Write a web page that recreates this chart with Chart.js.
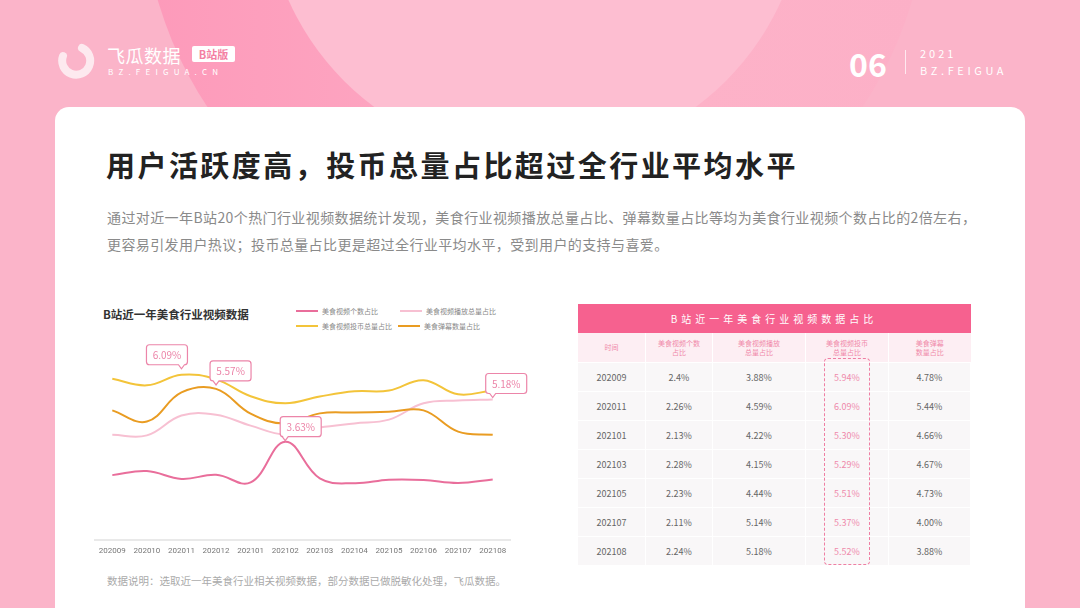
<!DOCTYPE html>
<html>
<head>
<meta charset="utf-8">
<script src="https://cdn.jsdelivr.net/npm/chart.js@4.4.0/dist/chart.umd.min.js"></script>
<style>
  html, body { margin: 0; padding: 0; }
  body { width: 1080px; height: 608px; overflow: hidden; position: relative; background: #fbb4c9; font-family: "Noto Sans CJK SC", "Noto Sans", sans-serif; }
  .abs { position: absolute; }
  #ring { left: 142px; top: -503px; width: 786px; height: 786px; border-radius: 50%; background: linear-gradient(90deg, #fd9aba 0%, #fda4c0 30%, #fdb2c8 70%, #fcb0c7 100%); }
  #disc { left: 265px; top: -380px; width: 540px; height: 540px; border-radius: 50%; background: #fdbed1; }
  #card { left: 55px; top: 107px; width: 970px; height: 540px; background: #fff; border-radius: 14px; }
  #title { left: 106px; top: 143px; font-size: 29px; font-weight: 700; color: #222; letter-spacing: 2.45px; white-space: nowrap; }
  #desc { left: 107px; top: 204px; width: 880px; font-size: 14px; line-height: 27px; color: #8a8a8a; letter-spacing: 0.4px; }
  #chartTitle { left: 103px; top: 306px; font-size: 11.5px; font-weight: 700; color: #333; white-space: nowrap; }
  .lg { font-size: 7px; color: #888; white-space: nowrap; display: flex; align-items: center; }
  .lg i { display: inline-block; width: 22px; height: 2px; margin-right: 4px; }
  #note { left: 107px; top: 573px; font-size: 10.5px; color: #aaa; white-space: nowrap; }
  #chartWrap { left: 90px; top: 330px; width: 440px; height: 235px; }
  #tbl { left: 577px; top: 304px; width: 393px; border-collapse: collapse; table-layout: fixed; }
  #tbl th.cap { background: #f6618f; color: #fff; font-size: 10px; font-weight: 400; letter-spacing: 4px; height: 29px; padding: 0; }
  #tbl th.sub { background: #fdeef3; color: #f08aaa; font-size: 7px; font-weight: 400; line-height: 9px; height: 29px; padding: 0; border-left: 1px solid #fff; }
  #tbl td { background: #f9f7f8; color: #666; font-size: 9px; text-align: center; height: 28px; padding: 0; border: 1px solid #fff; border-width: 1px 1px 0 1px; }
  #tbl td.hi { color: #ef8aab; }
  #dash { left: 824px; top: 358px; width: 44px; height: 205px; border: 1.5px dashed #ef7fa3; border-radius: 4px; }
  .hd { color: #fff; white-space: nowrap; }
</style>
</head>
<body>
<div id="ring" class="abs"></div>
<div id="disc" class="abs"></div>

<!-- header -->
<svg class="abs" style="left:55px;top:40px" width="40" height="40" viewBox="0 0 40 40">
  <path d="M 27 8 A 14 14 0 1 1 8 16" fill="none" stroke="#fde9ef" stroke-width="8" stroke-linecap="round"/>
</svg>
<div class="abs hd" style="left:107px;top:42px;font-size:18px;font-weight:400;letter-spacing:0.5px">飞瓜数据</div>
<div class="abs" style="left:192px;top:46px;width:43px;height:16px;background:#fff;border-radius:2px;color:#f47fa3;font-size:11px;font-weight:700;line-height:16px;text-align:center">B站版</div>
<div class="abs hd" style="left:108px;top:66px;font-size:8px;letter-spacing:5.2px">BZ.FEIGUA.CN</div>
<div class="abs hd" style="left:849px;top:40px;font-size:32px;font-weight:700">06</div>
<div class="abs" style="left:905px;top:50px;width:1px;height:24px;background:rgba(255,255,255,0.7)"></div>
<div class="abs hd" style="left:920px;top:45px;font-size:11px;letter-spacing:3px">2021</div>
<div class="abs hd" style="left:920px;top:62px;font-size:11px;letter-spacing:3.6px">BZ.FEIGUA</div>

<div id="card" class="abs"></div>
<div id="title" class="abs">用户活跃度高，投币总量占比超过全行业平均水平</div>
<div id="desc" class="abs">通过对近一年B站20个热门行业视频数据统计发现，美食行业视频播放总量占比、弹幕数量占比等均为美食行业视频个数占比的2倍左右，<br>更容易引发用户热议；投币总量占比更是超过全行业平均水平，受到用户的支持与喜爱。</div>

<div id="chartTitle" class="abs">B站近一年美食行业视频数据</div>
<div id="legend"></div>
<div id="chartWrap" class="abs"><canvas id="lineChart"></canvas></div>

<table id="tbl" class="abs"></table>
<div id="dash" class="abs"></div>

<div id="note" class="abs">数据说明：选取近一年美食行业相关视频数据，部分数据已做脱敏化处理，飞瓜数据。</div>

<script>
var months = ['202009', '202010', '202011', '202012', '202101', '202102', '202103', '202104', '202105', '202106', '202107', '202108'];
var countShare = [2.4, 2.55, 2.26, 2.41, 2.13, 3.63, 2.28, 2.1, 2.23, 2.22, 2.11, 2.24];
var playShare = [3.88, 3.86, 4.59, 4.62, 4.22, 3.89, 4.15, 4.3, 4.44, 5.04, 5.14, 5.18];
var coinShare = [5.94, 5.7, 6.09, 5.92, 5.30, 5.04, 5.29, 5.48, 5.51, 5.89, 5.37, 5.52];
var danmuShare = [4.78, 4.37, 5.44, 5.57, 4.66, 4.3, 4.67, 4.7, 4.73, 4.78, 4.0, 3.88];
var seriesNames = ['美食视频个数占比', '美食视频播放总量占比', '美食视频投币总量占比', '美食弹幕数量占比'];
var seriesColors = ['#e96e9b', '#f7c0d2', '#f3c43a', '#e99c22'];

// table data
var tableTitle = 'B站近一年美食行业视频数据占比';
var tableHeads = ['时间', '美食视频个数<br>占比', '美食视频播放<br>总量占比', '美食视频投币<br>总量占比', '美食弹幕<br>数量占比'];
var tableMonths = ['202009', '202011', '202101', '202103', '202105', '202107', '202108'];
var tableCount = ['2.4%', '2.26%', '2.13%', '2.28%', '2.23%', '2.11%', '2.24%'];
var tablePlay = ['3.88%', '4.59%', '4.22%', '4.15%', '4.44%', '5.14%', '5.18%'];
var tableCoin = ['5.94%', '6.09%', '5.30%', '5.29%', '5.51%', '5.37%', '5.52%'];
var tableDanmu = ['4.78%', '5.44%', '4.66%', '4.67%', '4.73%', '4.00%', '3.88%'];

// legend (2 x 2)
var legendSpots = [[296, 306], [400, 306], [296, 321], [398, 321]];
var legendHtml = '';
for (var i = 0; i < seriesNames.length; i++) {
    legendHtml += '<div class="abs lg" style="left:' + legendSpots[i][0] + 'px;top:' + legendSpots[i][1] + 'px">' +
        '<i style="background:' + seriesColors[i] + '"></i>' + seriesNames[i] + '</div>';
}
document.getElementById('legend').innerHTML = legendHtml;

// table
var colW = [68, 67, 93, 83, 82];
var html = '<colgroup>';
colW.forEach(function (w) { html += '<col style="width:' + w + 'px">'; });
html += '</colgroup><tr><th class="cap" colspan="5">' + tableTitle + '</th></tr><tr>';
tableHeads.forEach(function (h) { html += '<th class="sub">' + h + '</th>'; });
html += '</tr>';
for (var r = 0; r < tableMonths.length; r++) {
    html += '<tr><td>' + tableMonths[r] + '</td><td>' + tableCount[r] + '</td><td>' + tablePlay[r] +
        '</td><td class="hi">' + tableCoin[r] + '</td><td>' + tableDanmu[r] + '</td></tr>';
}
document.getElementById('tbl').innerHTML = html;

// callouts on the line chart: dataset index, point index, box offset from point
var callouts = [
    { ds: 2, idx: 2, dx: -35, dy: -10 },
    { ds: 3, idx: 3, dx: -6, dy: -8 },
    { ds: 0, idx: 5, dx: -5, dy: -5 },
    { ds: 1, idx: 11, dx: -7, dy: -6 }
];

var calloutPlugin = {
    id: 'callouts',
    afterDatasetsDraw: function (chart) {
        var ctx = chart.ctx;
        ctx.save();
        callouts.forEach(function (c) {
            var pt = chart.getDatasetMeta(c.ds).data[c.idx];
            var val = chart.data.datasets[c.ds].data[c.idx];
            var w = 41, h = 20, r = 3;
            var x0 = pt.x + c.dx, y1 = pt.y + c.dy, y0 = y1 - h;
            var px = pt.x;
            ctx.beginPath();
            ctx.moveTo(x0 + r, y0);
            ctx.lineTo(x0 + w - r, y0);
            ctx.quadraticCurveTo(x0 + w, y0, x0 + w, y0 + r);
            ctx.lineTo(x0 + w, y1 - r);
            ctx.quadraticCurveTo(x0 + w, y1, x0 + w - r, y1);
            ctx.lineTo(px + 3, y1);
            ctx.lineTo(px, y1 + 4);
            ctx.lineTo(px - 3, y1);
            ctx.lineTo(x0 + r, y1);
            ctx.quadraticCurveTo(x0, y1, x0, y1 - r);
            ctx.lineTo(x0, y0 + r);
            ctx.quadraticCurveTo(x0, y0, x0 + r, y0);
            ctx.closePath();
            ctx.fillStyle = '#fff';
            ctx.fill();
            ctx.lineWidth = 1.2;
            ctx.strokeStyle = '#ec85a9';
            ctx.stroke();
            ctx.fillStyle = '#ec85a9';
            ctx.font = '10px "Noto Sans CJK SC", sans-serif';
            ctx.textAlign = 'center';
            ctx.textBaseline = 'middle';
            ctx.fillText(val.toFixed(2) + '%', x0 + w / 2, y0 + h / 2 + 0.5);
        });
        ctx.restore();
    }
};

var datasets = [countShare, playShare, coinShare, danmuShare].map(function (d, i) {
    return {
        label: seriesNames[i],
        data: d,
        borderColor: seriesColors[i],
        borderWidth: 2,
        pointRadius: 0,
        tension: 0.4,
        fill: false
    };
});
// draw the light lines under the stronger ones
datasets[0].order = 1;
datasets[1].order = 4;
datasets[2].order = 2;
datasets[3].order = 3;

var ctx = document.getElementById('lineChart').getContext('2d');
new Chart(ctx, {
    type: 'line',
    data: { labels: months, datasets: datasets },
    options: {
        responsive: true,
        maintainAspectRatio: false,
        animation: false,
        layout: { padding: { left: 5, right: 20, top: 20, bottom: 3 } },
        plugins: { legend: { display: false }, tooltip: { enabled: false } },
        scales: {
            x: {
                offset: true,
                grid: { display: false, drawTicks: false },
                border: { color: '#e9e9e9', width: 2 },
                ticks: { color: '#777', font: { size: 8, family: 'Roboto' }, padding: 6, maxRotation: 0, autoSkip: false }
            },
            y: { display: false, min: 0, max: 7 }
        }
    },
    plugins: [calloutPlugin]
});
</script>
</body>
</html>
